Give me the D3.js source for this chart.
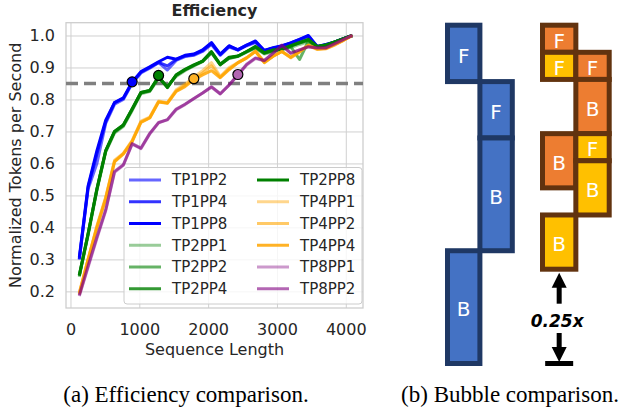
<!DOCTYPE html>
<html>
<head>
<meta charset="utf-8">
<script src="https://cdn.jsdelivr.net/npm/d3@7"></script>
<style>
  body { margin: 0; background: #fff; }
  svg { display: block; font-family: "DejaVu Sans", sans-serif; }
</style>
</head>
<body>
<div id="chart"></div>
<script>
// ---- data ----
var seqLen = [128, 256, 384, 512, 640, 768, 896, 1024, 1152, 1280, 1408, 1536, 1664, 1792, 1920, 2048,
              2176, 2304, 2432, 2560, 2688, 2816, 2944, 3072, 3200, 3328, 3456, 3584, 3712, 3840, 3968, 4096];

var seriesNames = ["TP1PP2", "TP1PP4", "TP1PP8", "TP2PP1", "TP2PP2", "TP2PP4", "TP2PP8",
                   "TP4PP1", "TP4PP2", "TP4PP4", "TP8PP1", "TP8PP2"];

var tp1pp2 = [0.30, 0.52, 0.60, 0.725, 0.785, 0.80, 0.85, 0.883, 0.898, 0.915, 0.892, 0.922, 0.934, 0.938, 0.95, 0.972,
              0.938, 0.964, 0.954, 0.968, 0.978, 0.952, 0.96, 0.966, 0.976, 0.986, 0.995, 0.965, 0.97, 0.979, 0.99, 1.0];
var tp1pp4 = [0.30, 0.525, 0.63, 0.73, 0.79, 0.803, 0.852, 0.885, 0.90, 0.916, 0.905, 0.925, 0.936, 0.94, 0.953, 0.975,
              0.94, 0.966, 0.956, 0.97, 0.98, 0.953, 0.96, 0.967, 0.977, 0.988, 0.998, 0.966, 0.971, 0.98, 0.99, 1.0];
var tp1pp8 = [0.305, 0.53, 0.64, 0.735, 0.79, 0.805, 0.855, 0.887, 0.902, 0.918, 0.932, 0.926, 0.938, 0.942, 0.955, 0.978,
              0.942, 0.968, 0.955, 0.97, 0.983, 0.953, 0.962, 0.968, 0.977, 0.988, 1.0, 0.966, 0.972, 0.98, 0.99, 1.0];
var tp2pp1 = [0.245, 0.375, 0.515, 0.635, 0.695, 0.715, 0.765, 0.818, 0.825, 0.865, 0.842, 0.872, 0.89, 0.905, 0.918, 0.945,
              0.91, 0.928, 0.934, 0.948, 0.96, 0.942, 0.948, 0.955, 0.962, 0.972, 0.98, 0.963, 0.968, 0.978, 0.99, 1.0];
var tp2pp2 = [0.248, 0.378, 0.518, 0.638, 0.698, 0.718, 0.768, 0.82, 0.826, 0.868, 0.84, 0.875, 0.892, 0.906, 0.919, 0.947,
              0.909, 0.929, 0.935, 0.949, 0.962, 0.944, 0.952, 0.958, 0.965, 0.925, 0.982, 0.964, 0.969, 0.979, 0.99, 1.0];
var tp2pp4 = [0.25, 0.38, 0.52, 0.64, 0.70, 0.72, 0.77, 0.822, 0.828, 0.87, 0.838, 0.876, 0.893, 0.907, 0.92, 0.948,
              0.908, 0.93, 0.935, 0.95, 0.963, 0.945, 0.953, 0.957, 0.967, 0.976, 0.985, 0.965, 0.97, 0.98, 0.99, 1.0];
var tp2pp8 = [0.25, 0.38, 0.52, 0.64, 0.70, 0.72, 0.77, 0.822, 0.828, 0.872, 0.837, 0.877, 0.894, 0.908, 0.92, 0.95,
              0.91, 0.932, 0.936, 0.95, 0.966, 0.946, 0.955, 0.958, 0.968, 0.978, 0.988, 0.966, 0.97, 0.98, 0.99, 1.0];
var tp4pp1 = [0.19, 0.30, 0.405, 0.495, 0.61, 0.632, 0.672, 0.732, 0.745, 0.795, 0.79, 0.83, 0.848, 0.87, 0.89, 0.915,
              0.872, 0.9, 0.915, 0.93, 0.952, 0.918, 0.935, 0.95, 0.93, 0.948, 0.968, 0.956, 0.958, 0.97, 0.985, 1.0];
var tp4pp2 = [0.192, 0.30, 0.402, 0.492, 0.607, 0.63, 0.67, 0.73, 0.743, 0.793, 0.789, 0.827, 0.844, 0.866, 0.883, 0.905,
              0.87, 0.896, 0.914, 0.93, 0.951, 0.916, 0.935, 0.95, 0.931, 0.949, 0.969, 0.957, 0.959, 0.971, 0.985, 1.0];
var tp4pp4 = [0.195, 0.30, 0.40, 0.49, 0.605, 0.63, 0.668, 0.728, 0.742, 0.792, 0.788, 0.825, 0.84, 0.862, 0.877, 0.89,
              0.868, 0.893, 0.915, 0.93, 0.95, 0.915, 0.935, 0.95, 0.932, 0.95, 0.97, 0.958, 0.96, 0.972, 0.985, 1.0];
var tp8pp1 = [0.185, 0.275, 0.365, 0.452, 0.572, 0.594, 0.66, 0.646, 0.692, 0.727, 0.736, 0.768, 0.784, 0.802, 0.82, 0.838,
              0.817, 0.845, 0.876, 0.908, 0.928, 0.921, 0.944, 0.968, 0.944, 0.955, 0.964, 0.961, 0.961, 0.974, 0.988, 1.0];
var tp8pp2 = [0.188, 0.28, 0.37, 0.455, 0.575, 0.596, 0.662, 0.648, 0.694, 0.728, 0.737, 0.77, 0.785, 0.803, 0.82, 0.84,
              0.818, 0.845, 0.877, 0.91, 0.93, 0.922, 0.945, 0.97, 0.945, 0.955, 0.965, 0.962, 0.962, 0.975, 0.988, 1.0];

var seriesValues = [tp1pp2, tp1pp4, tp1pp8, tp2pp1, tp2pp2, tp2pp4, tp2pp8, tp4pp1, tp4pp2, tp4pp4, tp8pp1, tp8pp2];

// markers where each TP group first reaches the threshold
var threshold = 0.85;
var markerSeq = [896, 1280, 1792, 2432];
var markerVal = [0.855, 0.875, 0.865, 0.878];

var xTicks = [0, 1000, 2000, 3000, 4000];
var yTicks = [0.2, 0.3, 0.4, 0.5, 0.6, 0.7, 0.8, 0.9, 1.0];

// bubble diagram: column, start, end (in F units), label
var baseCol   = [0, 1, 1, 0];
var baseStart = [0, 1, 2, 4];
var baseEnd   = [1, 2, 4, 6];
var baseLabel = ["F", "F", "B", "B"];

var newCol   = [0, 0, 1, 1, 0, 1, 1, 0];
var newStart = [0, 0.5, 0.5, 1, 2, 2, 2.5, 3.5];
var newEnd   = [0.5, 1, 1, 2, 3, 2.5, 3.5, 4.5];
var newLabel = ["F", "F", "F", "B", "B", "F", "B", "B"];
var newHalf  = [0, 1, 0, 0, 0, 1, 1, 1];   // 0 = first micro-batch half, 1 = second
var reduction = "0.25x";

// ---- styles ----
var lineColor = ["#0000ff", "#0000ff", "#0000ff", "#008000", "#008000", "#008000", "#008000",
                 "#ffa500", "#ffa500", "#ffa500", "#800080", "#800080"];
var lineAlpha = [0.6, 0.8, 1, 0.4, 0.6, 0.8, 1, 0.45, 0.6, 0.85, 0.4, 0.6];
var markerFill = ["#0000ff", "#008000", "#ffb226", "#b266b2"];

var W = 622, H = 415;
var svg = d3.select("#chart").append("svg").attr("width", W).attr("height", H);

// ---- (a) efficiency line chart ----
var plot = {left: 66, right: 363, top: 22.7, bottom: 308};
var x = d3.scaleLinear().domain([-65, 4250]).range([plot.left, plot.right]);
var y = d3.scaleLinear().domain([0.148, 1.04]).range([plot.bottom, plot.top]);

var g = svg.append("g");

var xAxis = g.append("g")
  .attr("transform", "translate(0," + plot.bottom + ")")
  .call(d3.axisBottom(x).tickValues(xTicks).tickFormat(d3.format("d"))
    .tickSize(-(plot.bottom - plot.top)).tickPadding(16));
var yAxis = g.append("g")
  .attr("transform", "translate(" + plot.left + ",0)")
  .call(d3.axisLeft(y).tickValues(yTicks).tickFormat(d3.format(".1f"))
    .tickSize(-(plot.right - plot.left)).tickPadding(11));

[xAxis, yAxis].forEach(function(a) {
  a.select(".domain").remove();
  a.selectAll("line").attr("stroke", "#d0d0d0").attr("stroke-width", 1);
  a.selectAll("text").attr("fill", "#262626").style("font-size", "16px")
    .style("font-family", "DejaVu Sans");
});

g.append("rect")
  .attr("x", plot.left).attr("y", plot.top)
  .attr("width", plot.right - plot.left).attr("height", plot.bottom - plot.top)
  .attr("fill", "none").attr("stroke", "#cccccc").attr("stroke-width", 1.25);

// threshold
g.append("line")
  .attr("x1", plot.left).attr("x2", plot.right)
  .attr("y1", y(threshold)).attr("y2", y(threshold))
  .attr("stroke", "#808080").attr("stroke-width", 3.5).attr("stroke-dasharray", "12,6");

var line = d3.line()
  .x(function(d, i) { return x(seqLen[i]); })
  .y(function(d) { return y(d); });

seriesValues.forEach(function(vals, i) {
  g.append("path")
    .attr("d", line(vals))
    .attr("fill", "none")
    .attr("stroke", lineColor[i])
    .attr("stroke-opacity", lineAlpha[i])
    .attr("stroke-width", 3)
    .attr("stroke-linejoin", "round");
});

markerSeq.forEach(function(s, i) {
  g.append("circle")
    .attr("cx", x(s)).attr("cy", y(markerVal[i])).attr("r", 5)
    .attr("fill", markerFill[i]).attr("stroke", "#000").attr("stroke-width", 1.2);
});

// title and axis labels
g.append("text").attr("x", (plot.left + plot.right) / 2).attr("y", 15.5)
  .attr("text-anchor", "middle").style("font-size", "16px").style("font-weight", "bold")
  .attr("fill", "#262626").text("Efficiency");
g.append("text").attr("x", (plot.left + plot.right) / 2).attr("y", 355)
  .attr("text-anchor", "middle").style("font-size", "16px").attr("fill", "#262626")
  .text("Sequence Length");
g.append("text")
  .attr("transform", "translate(21," + ((plot.top + plot.bottom) / 2) + ") rotate(-90)")
  .attr("text-anchor", "middle").style("font-size", "16px").attr("fill", "#262626")
  .text("Normalized Tokens per Second");

// legend
var legend = g.append("g");
legend.append("rect")
  .attr("x", 124).attr("y", 167.5).attr("width", 238).attr("height", 136.5).attr("rx", 3)
  .attr("fill", "#fff").attr("fill-opacity", 0.8).attr("stroke", "#cccccc").attr("stroke-width", 1);

seriesNames.forEach(function(name, i) {
  var col = Math.floor(i / 6), row = i % 6;
  var lx = 129 + col * 128, ly = 180 + row * 21.75;
  var r = legend.append("g").attr("transform", "translate(" + lx + "," + ly + ")");
  r.append("line").attr("x1", 0).attr("x2", 32).attr("y1", 0).attr("y2", 0)
    .attr("stroke", lineColor[i]).attr("stroke-opacity", lineAlpha[i]).attr("stroke-width", 3);
  r.append("text").attr("x", 43).attr("y", 0).attr("dy", "0.36em")
    .style("font-size", "15px").attr("fill", "#262626").text(name);
});

// ---- (b) bubble diagram ----
var stroke = 5;
var bxA = d3.scaleLinear().domain([0, 2]).range([447.5, 512.3]);
var byA = d3.scaleLinear().domain([0, 6]).range([25.2, 363.5]);
var bxB = d3.scaleLinear().domain([0, 2]).range([542.5, 609.2]);
var byB = d3.scaleLinear().domain([0, 4.5]).range([25.2, 269.2]);

function drawBlocks(cols, starts, ends, labels, fills, edge, bx, by) {
  var bg = svg.append("g");
  cols.forEach(function(c, i) {
    var x0 = bx(c), x1 = bx(c + 1), y0 = by(starts[i]), y1 = by(ends[i]);
    bg.append("rect")
      .attr("x", x0).attr("y", y0).attr("width", x1 - x0).attr("height", y1 - y0)
      .attr("fill", fills[i]).attr("stroke", edge).attr("stroke-width", stroke);
    bg.append("text")
      .attr("x", (x0 + x1) / 2).attr("y", (y0 + y1) / 2 + 2)
      .attr("dy", "0.36em").attr("text-anchor", "middle")
      .style("font-size", "20px").attr("fill", "#fff").text(labels[i]);
  });
}

drawBlocks(baseCol, baseStart, baseEnd, baseLabel,
  baseCol.map(function() { return "#4472c4"; }), "#1f3864", bxA, byA);
drawBlocks(newCol, newStart, newEnd, newLabel,
  newHalf.map(function(h) { return h ? "#ffc000" : "#ed7d31"; }), "#62330f", bxB, byB);

// arrow showing the bubble reduction
var ax = bxB(0.5);
var topY = byB(4.5) + stroke / 2 + 1;
var botY = byA(6) + stroke / 2;
var arrow = svg.append("g").attr("fill", "#000");
arrow.append("path").attr("d", "M" + ax + "," + topY + "L" + (ax - 7.5) + "," + (topY + 15) +
  "L" + (ax + 7.5) + "," + (topY + 15) + "Z");
arrow.append("rect").attr("x", ax - 2.5).attr("y", topY + 14).attr("width", 5).attr("height", 17);
arrow.append("rect").attr("x", ax - 2.5).attr("y", botY - 33).attr("width", 5).attr("height", 15);
arrow.append("path").attr("d", "M" + ax + "," + (botY - 4) + "L" + (ax - 7.5) + "," + (botY - 19) +
  "L" + (ax + 7.5) + "," + (botY - 19) + "Z");
arrow.append("rect").attr("x", ax - 14).attr("y", botY - 5).attr("width", 28).attr("height", 5);
arrow.append("text").attr("x", ax - 2).attr("y", (topY + botY) / 2 + 8)
  .attr("text-anchor", "middle").style("font-size", "17px").style("font-weight", "bold")
  .style("font-style", "italic").text(reduction);

// ---- captions ----
svg.append("text").attr("x", 186).attr("y", 402).attr("text-anchor", "middle")
  .style("font-family", "Liberation Serif, Times New Roman, serif").style("font-size", "23px")
  .attr("fill", "#000").text("(a) Efficiency comparison.");
svg.append("text").attr("x", 510).attr("y", 402).attr("text-anchor", "middle")
  .style("font-family", "Liberation Serif, Times New Roman, serif").style("font-size", "23px")
  .attr("fill", "#000").text("(b) Bubble comparison.");
</script>
</body>
</html>
